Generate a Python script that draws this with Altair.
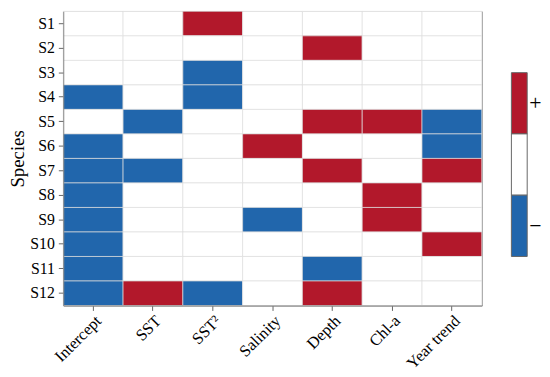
import altair as alt
import pandas as pd

species = ["S1", "S2", "S3", "S4", "S5", "S6", "S7", "S8", "S9", "S10", "S11", "S12"]
variables = ["Intercept", "SST", "SST²", "Salinity", "Depth", "Chl-a", "Year trend"]

# sign of effect: 1 = positive, -1 = negative, 0 = not significant
s1 = [0, 0, 1, 0, 0, 0, 0]
s2 = [0, 0, 0, 0, 1, 0, 0]
s3 = [0, 0, -1, 0, 0, 0, 0]
s4 = [-1, 0, -1, 0, 0, 0, 0]
s5 = [0, -1, 0, 0, 1, 1, -1]
s6 = [-1, 0, 0, 1, 0, 0, -1]
s7 = [-1, -1, 0, 0, 1, 0, 1]
s8 = [-1, 0, 0, 0, 0, 1, 0]
s9 = [-1, 0, 0, -1, 0, 1, 0]
s10 = [-1, 0, 0, 0, 0, 0, 1]
s11 = [-1, 0, 0, 0, -1, 0, 0]
s12 = [-1, 1, -1, 0, 1, 0, 0]
rows = [s1, s2, s3, s4, s5, s6, s7, s8, s9, s10, s11, s12]

legend_labels = ["+", "", "−"]
legend_values = [1, 0, -1]
legend_from = [2.5, 5.0, 7.5]
legend_to = [5.0, 7.5, 10.0]

RED = "#b2182b"
BLUE = "#2166ac"
FONT = "Liberation Serif"

records = []
for sp, r in zip(species, rows):
    for v, val in zip(variables, r):
        records.append({"Species": sp, "Variable": v, "sign": val})
df = pd.DataFrame(records)

color_scale = alt.Scale(domain=[-1, 0, 1], range=[BLUE, "#ffffff", RED])

heat = alt.Chart(df).mark_rect(stroke="#dddddd", strokeWidth=0.7).encode(
    x=alt.X("Variable:N", sort=variables, title=None,
            scale=alt.Scale(paddingInner=0, paddingOuter=0),
            axis=alt.Axis(labelAngle=-45, labelFont=FONT, labelFontSize=16.5,
                          labelColor="black", tickColor="#666", domainColor="#888",
                          tickSize=5, labelPadding=2)),
    y=alt.Y("Species:N", sort=species, title="Species",
            scale=alt.Scale(paddingInner=0, paddingOuter=0),
            axis=alt.Axis(labelFont=FONT, labelFontSize=16, labelColor="black",
                          titleFont=FONT, titleFontSize=19, titleFontWeight="normal",
                          titleColor="black", tickColor="#666", domainColor="#888",
                          tickSize=5, labelPadding=4, titlePadding=2)),
    color=alt.Color("sign:O", scale=color_scale, legend=None),
).properties(width=424, height=298,
             view=alt.ViewBackground(stroke="#888", strokeWidth=1))

ldf = pd.DataFrame({"label": legend_labels, "sign": legend_values,
                    "y0": legend_from, "y1": legend_to,
                    "ym": [(a + b) / 2 for a, b in zip(legend_from, legend_to)]})

yscale = alt.Scale(domain=[0, 12], reverse=True, nice=False, zero=False)
lbar = alt.Chart(ldf).mark_rect(stroke="#666", strokeWidth=1).encode(
    x=alt.value(0), x2=alt.value(16),
    y=alt.Y("y0:Q", scale=yscale, axis=None),
    y2="y1:Q",
    color=alt.Color("sign:O", scale=color_scale, legend=None),
)
ltext = alt.Chart(ldf).mark_text(font=FONT, fontSize=22, align="left",
                                 baseline="middle", color="black").encode(
    x=alt.value(18),
    y=alt.Y("ym:Q", scale=yscale, axis=None),
    text="label:N",
)
legend = alt.layer(lbar, ltext).properties(
    width=16, height=298,
    view=alt.ViewBackground(strokeOpacity=0))

chart = alt.hconcat(heat, legend, spacing=28).configure(
    padding={"left": 0, "top": 0, "right": 0, "bottom": 0})

chart.save("out.html", embed_options={"renderer": "svg", "actions": False})
